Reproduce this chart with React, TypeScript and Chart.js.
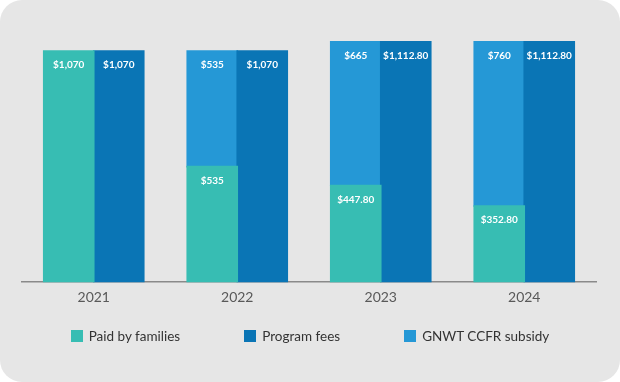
import React, { useEffect, useRef } from "react";
import { Chart, registerables } from "chart.js";

Chart.register(...registerables);

const years = ["2021", "2022", "2023", "2024"];
const paidByFamilies = [1070, 535, 447.8, 352.8];
const programFees = [1070, 1070, 1112.8, 1112.8];
const gnwtSubsidy: (number | null)[] = [null, 535, 665, 760];

const seriesNames = ["Paid by families", "Program fees", "GNWT CCFR subsidy"];
const seriesColors = ["#37bdb3", "#0a75b5", "#2598d6"];

const fmt = (v: number) =>
  Number.isInteger(v)
    ? "$" + v.toLocaleString("en-US")
    : "$" + v.toLocaleString("en-US", { minimumFractionDigits: 2, maximumFractionDigits: 2 });

const valueLabels = {
  id: "valueLabels",
  afterDatasetsDraw(chart: any) {
    const ctx = chart.ctx;
    ctx.save();
    ctx.fillStyle = "#ffffff";
    ctx.font = "bold 10px Lato";
    ctx.textAlign = "center";
    ctx.textBaseline = "middle";
    chart.data.datasets.forEach((ds: any, i: number) => {
      const meta = chart.getDatasetMeta(i);
      meta.data.forEach((el: any, j: number) => {
        const v = ds.data[j];
        if (v === null || v === undefined) return;
        ctx.fillText(fmt(v), el.x, el.y + 14);
      });
    });
    ctx.restore();
  },
};

export default function App() {
  const ref = useRef<HTMLCanvasElement | null>(null);

  useEffect(() => {
    if (!ref.current) return;
    const chart = new Chart(ref.current, {
      type: "bar",
      data: {
        labels: years,
        datasets: [
          {
            label: seriesNames[0],
            data: paidByFamilies,
            backgroundColor: seriesColors[0],
            stack: "a",
          },
          {
            label: seriesNames[1],
            data: programFees,
            backgroundColor: seriesColors[1],
            stack: "b",
          },
          {
            label: seriesNames[2],
            data: gnwtSubsidy,
            backgroundColor: seriesColors[2],
            stack: "a",
          },
        ],
      },
      options: {
        responsive: false,
        animation: false,
        maintainAspectRatio: false,
        layout: { padding: { left: 22, right: 24, top: 38, bottom: 69 } },
        plugins: {
          legend: { display: false },
          tooltip: { enabled: false },
        },
        datasets: {
          bar: {
            categoryPercentage: 0.697,
            barPercentage: 1,
            borderWidth: 0,
            inflateAmount: 0.8,
          },
        },
        scales: {
          x: {
            stacked: true,
            grid: { display: false, drawTicks: false },
            border: { display: true, color: "#8a8a8a", width: 1.5 },
            ticks: {
              color: "#595959",
              font: { family: "Lato", size: 14 },
              padding: 7,
            },
          },
          y: {
            stacked: true,
            display: false,
            min: 0,
            max: 1130,
          },
        },
      },
      plugins: [valueLabels],
    });
    return () => chart.destroy();
  }, []);

  return (
    <div
      style={{
        position: "absolute",
        left: 0,
        top: 0,
        width: 620,
        height: 382,
        background: "#e6e6e6",
        borderRadius: 22,
        overflow: "hidden",
        fontFamily: "Lato",
      }}
    >
      <canvas ref={ref} width={620} height={382} style={{ position: "absolute", left: 0, top: 0 }} />
      <div
        style={{
          position: "absolute",
          left: 0,
          top: 328,
          width: 620,
          display: "flex",
          justifyContent: "center",
          gap: 64,
          fontSize: 13.5,
          color: "#333333",
          lineHeight: "16px",
        }}
      >
        {seriesNames.map((name, i) => (
          <div key={name} style={{ display: "flex", alignItems: "center" }}>
            <span
              style={{
                display: "inline-block",
                width: 12,
                height: 12,
                background: seriesColors[i],
                marginRight: 6,
              }}
            />
            <span>{name}</span>
          </div>
        ))}
      </div>
    </div>
  );
}
